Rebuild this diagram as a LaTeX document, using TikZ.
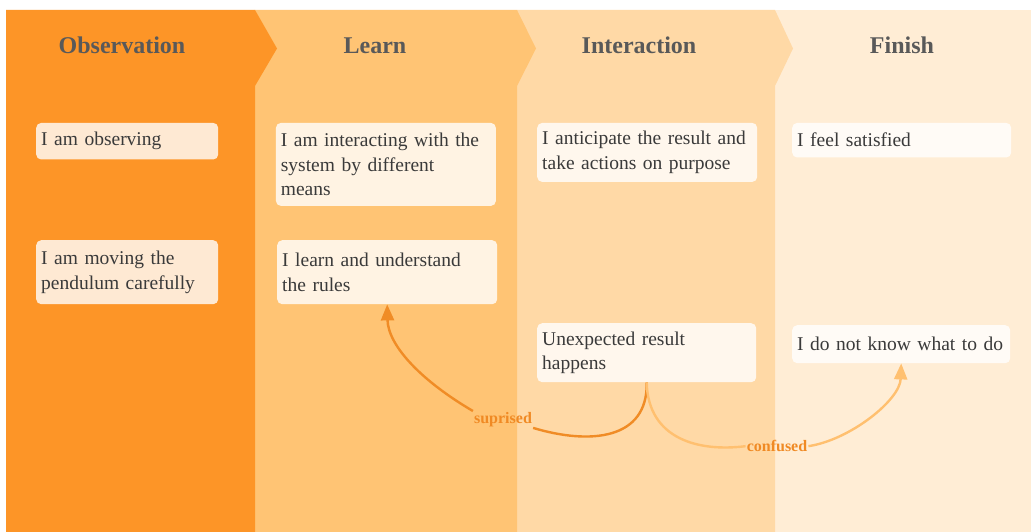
\documentclass[tikz,border=0pt]{standalone}
\usepackage{fontspec}
\setmainfont{Liberation Serif}
\usetikzlibrary{arrows.meta}
\definecolor{cA}{HTML}{FD9527}
\definecolor{cB}{HTML}{FFC474}
\definecolor{cC}{HTML}{FFD9A6}
\definecolor{cD}{HTML}{FFEDD5}
\definecolor{headc}{HTML}{595959}
\definecolor{bodyc}{HTML}{3A3A3A}
\definecolor{supc}{HTML}{F08C26}
\definecolor{confc}{HTML}{FFC070}
\definecolor{lblc}{HTML}{F08A24}
\begin{document}
\begin{tikzpicture}[x=1pt,y=-1pt,
  stepbox/.style={draw=none, fill=white, fill opacity=0.8, text opacity=1,
    rounded corners=5pt, anchor=north west, align=left, inner xsep=5pt, inner ysep=2pt,
    font=\fontsize{19.5}{24.7}\selectfont, text=bodyc},
  header/.style={font=\fontsize{24}{28}\selectfont\bfseries, text=headc, anchor=base},
  lbltext/.style={font=\fontsize{16}{18}\selectfont\bfseries, text=lblc, inner sep=1pt, anchor=base},
  supline/.style={draw=supc, line width=2.4pt},
  confline/.style={draw=confc, line width=2.4pt},
  tip/.style={-{Triangle[length=16pt,width=13pt]}}
]
\useasboundingbox (0,0) rectangle (1031,532);
\fill[white] (0,0) rectangle (1031,532);
% columns
\fill[cD] (775,10) rectangle (1031,532);
\fill[cC] (517,10) -- (775,10) -- (793,48.5) -- (775,86) -- (775,532) -- (517,532) -- cycle;
\fill[cB] (254.5,10) -- (517,10) -- (536,48.5) -- (517,86) -- (517,532) -- (254.5,532) -- cycle;
\fill[cA] (6,10) -- (255,10) -- (277,48.5) -- (255,86) -- (255,532) -- (6,532) -- cycle;
% headers
\node[header] (h1) at (122,54) {Observation};
\node[header] (h2) at (375,54) {Learn};
\node[header] (h3) at (639,54) {Interaction};
\node[header] (h4) at (902,54) {Finish};
% boxes
\node[stepbox, text width=172pt, minimum height=36.6pt] (o1) at (36,122.7) {I am observing};
\node[stepbox, text width=172pt, minimum height=64pt] (o2) at (36,240) {I am moving the\\pendulum carefully};
\node[stepbox, text width=210pt, minimum height=83pt] (l1) at (275.7,122.7) {I am interacting with the\\system by different\\means};
\node[stepbox, text width=210pt, minimum height=64pt] (l2) at (277,240) {I learn and understand\\the rules};
\node[stepbox, text width=210pt, minimum height=59pt] (i1) at (537,122.7) {\mbox{I anticipate the result and}\\take actions on purpose};
\node[stepbox, text width=209pt, minimum height=59pt] (u) at (537,323) {Unexpected result\\happens};
\node[stepbox, text width=209pt, minimum height=34.6pt] (f1) at (792,122.7) {I feel satisfied};
\node[stepbox, text width=208pt, minimum height=38pt] (f2) at (792,325) {\mbox{I do not know what to do}};
% labels
\node[lbltext] (sup) at (503,423.3) {suprised};
\node[lbltext] (conf) at (777,451.7) {confused};
% connectors
\draw[supline] (u.south) .. controls (648,440) and (590,445) .. (sup.south east);
\draw[supline, tip] (sup.north west) .. controls (420,380) and (388,345) .. (l2.south);
\draw[confline] (u.south) .. controls (648,440) and (700,452) .. (conf.west);
\draw[confline, tip] (conf.east) .. controls (850,440) and (900,400) .. (f2.south);
\end{tikzpicture}
\end{document}
